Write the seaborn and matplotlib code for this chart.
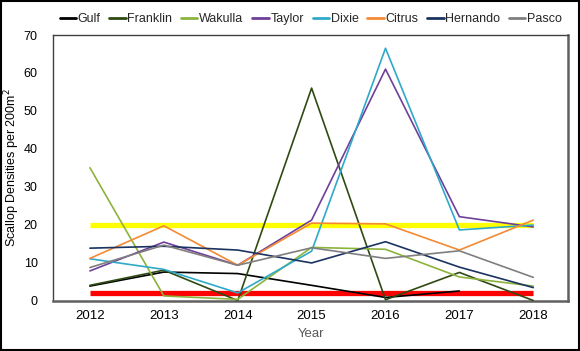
import matplotlib
matplotlib.use("Agg")
import matplotlib.pyplot as plt
import seaborn as sns
import pandas as pd
import numpy as np

years = [2012, 2013, 2014, 2015, 2016, 2017, 2018]
gulf = [3.8, 7.5, 7.1, 4.0, 0.8, 2.5, np.nan]
franklin = [4.0, 8.0, 0.0, 56.0, 0.2, 7.4, 0.0]
wakulla = [35.0, 1.2, 0.3, 14.0, 13.5, 6.2, 3.8]
taylor = [7.8, 15.4, 9.3, 21.2, 61.0, 22.1, 19.4]
dixie = [11.0, 8.2, 2.0, 13.0, 66.5, 18.6, 19.9]
citrus = [11.1, 19.7, 9.3, 20.4, 20.2, 13.3, 21.2]
hernando = [13.8, 14.3, 13.3, 9.9, 15.5, 8.8, 3.4]
pasco = [8.7, 14.6, 9.3, 13.9, 11.1, 13.1, 6.1]
threshold_high = 20
threshold_low = 2

series_names = ["Gulf", "Franklin", "Wakulla", "Taylor", "Dixie", "Citrus", "Hernando", "Pasco"]
series_values = [gulf, franklin, wakulla, taylor, dixie, citrus, hernando, pasco]
colors = ["#000000", "#2f4a12", "#8cb33c", "#6f3f9a", "#2fa9c9", "#f48a33", "#1b3360", "#7f7f7f"]

rows = []
for name, vals in zip(series_names, series_values):
    for y, v in zip(years, vals):
        rows.append({"Year": y, "Value": v, "Site": name})
df = pd.DataFrame(rows)

sns.set_theme(style="white")
plt.rcParams['font.family'] = ['Liberation Sans', 'DejaVu Sans']

fig = plt.figure(figsize=(5.8, 3.51), dpi=100)
ax = fig.add_axes([53/580, 1-300.5/351, (568-53)/580, (300.5-35)/351])

ax.plot([years[0], years[-1]], [threshold_high, threshold_high], color="#ffff00", lw=3.8, solid_capstyle="butt", zorder=1)
ax.plot([years[0], years[-1]], [threshold_low, threshold_low], color="#ff0000", lw=3.8, solid_capstyle="butt", zorder=1)

sns.lineplot(data=df, x="Year", y="Value", hue="Site", palette=dict(zip(series_names, colors)),
             hue_order=series_names, ax=ax, lw=1.2, legend=True, zorder=3)

ax.set_xlim(2011.5, 2018.47)
ax.set_ylim(0, 70)
ax.set_xticks(years)
ax.set_xticklabels([str(y) for y in years], fontsize=9.5, color="#000000")
ax.set_yticks(range(0, 71, 10))
ax.set_yticklabels([str(v) for v in range(0, 71, 10)], fontsize=9, color="#000000")
ax.tick_params(axis="x", length=0, pad=7)
ax.tick_params(axis="y", length=0, pad=11)
ax.set_xlabel("Year", fontsize=9.5, color="#595959", labelpad=4)
ax.set_ylabel("Scallop Densities per 200m$^2$", fontsize=9, color="#000000")
ax.yaxis.set_label_coords(-0.06, 0.5)

for s in ["left", "top"]:
    ax.spines[s].set_color("#404040")
    ax.spines[s].set_linewidth(1.0)
for s in ["right", "bottom"]:
    ax.spines[s].set_color("#606060")
    ax.spines[s].set_linewidth(1.8)

handles, labels = ax.get_legend_handles_labels()
ax.legend_.remove()
leg = fig.legend(handles, labels, loc="center", bbox_to_anchor=(0.536, 0.946), ncol=8, frameon=False,
                 fontsize=9, handlelength=1.3, handletextpad=0.15, columnspacing=0.7)
for h in leg.get_lines():
    h.set_linewidth(2.0)

border = plt.Rectangle((0.002, 0.003), 0.996, 0.994, transform=fig.transFigure, fill=False,
                       edgecolor="#000000", lw=1.5)
fig.patches.append(border)

fig.savefig("out.png", dpi=100)
